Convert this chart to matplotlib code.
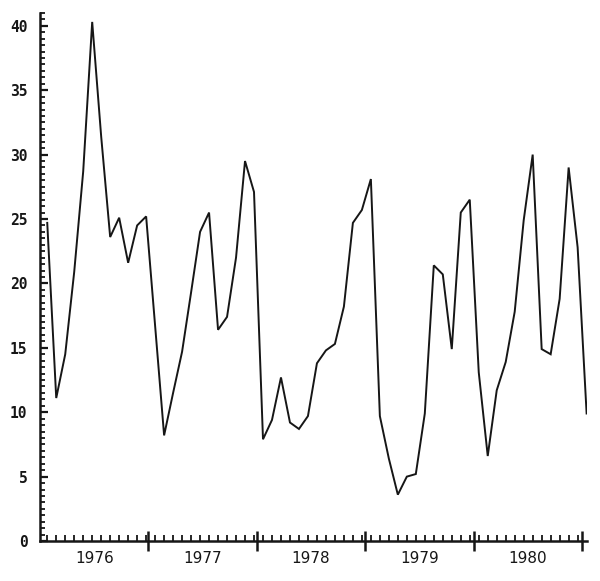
import numpy as np
import matplotlib
matplotlib.use("Agg")
import matplotlib.pyplot as plt
from matplotlib.ticker import FixedLocator, MultipleLocator

# monthly values, 1976 - 1980
values_1976 = [24.7, 11.1, 14.5, 20.9, 28.7, 40.3, 31.4, 23.6, 25.1, 21.6, 24.5, 25.2]
values_1977 = [16.7, 8.2, 11.5, 14.7, 19.3, 24.0, 25.5, 16.4, 17.4, 22.0, 29.5, 27.1]
values_1978 = [7.9, 9.4, 12.7, 9.2, 8.7, 9.7, 13.8, 14.8, 15.3, 18.2, 24.7, 25.7]
values_1979 = [28.1, 9.7, 6.4, 3.6, 5.0, 5.2, 9.9, 21.4, 20.7, 14.9, 25.5, 26.5]
values_1980 = [13.1, 6.6, 11.7, 13.9, 17.8, 24.9, 30.0, 14.9, 14.5, 18.8, 29.0, 22.8, 9.9]

years = ["1976", "1977", "1978", "1979", "1980"]

values = values_1976 + values_1977 + values_1978 + values_1979 + values_1980
# time in months since Jan 1976
months = 0.8 + np.arange(len(values)) * 0.995

ink = "#161616"

fig = plt.figure(figsize=(6.0, 5.81), dpi=100)
ax = fig.add_axes([0.0667, 0.0688, 0.911, 0.909])

ax.plot(months, values, color=ink, lw=1.4, solid_joinstyle="miter")

ax.set_xlim(0, months[-1])
ax.set_ylim(0, 41)

for side in ["top", "right"]:
    ax.spines[side].set_visible(False)
for side in ["left", "bottom"]:
    ax.spines[side].set_linewidth(1.8)
    ax.spines[side].set_color(ink)

# y axis: major every 5, minor every 0.5, ticks pointing inwards
ax.yaxis.set_major_locator(MultipleLocator(5))
ax.yaxis.set_minor_locator(MultipleLocator(0.5))
ax.tick_params(axis="y", which="major", direction="in", length=6, width=1.6,
               color=ink, pad=9)
ax.tick_params(axis="y", which="minor", direction="in", length=3.5, width=1.3,
               color=ink)
for lab in ax.get_yticklabels():
    lab.set_fontfamily("DejaVu Sans Mono")
    lab.set_fontweight("bold")
    lab.set_fontsize(10.5)
    lab.set_color(ink)

# x axis: a small tick at every month, year names centred in each year
year_centres = [6 + 12 * i for i in range(len(years))]
ax.xaxis.set_major_locator(FixedLocator(year_centres))
ax.set_xticklabels(years, fontsize=11, color=ink, fontfamily="DejaVu Sans")
ax.tick_params(axis="x", which="major", length=0, pad=7)
ax.xaxis.set_minor_locator(FixedLocator(months[:-1]))
ax.tick_params(axis="x", which="minor", direction="in", length=4.5, width=1.3,
               color=ink)

# year boundaries: longer ticks crossing the axis
sec = ax.secondary_xaxis("bottom")
sec.set_xticks([12 * (i + 1) for i in range(len(years))])
sec.set_xticklabels([])
sec.tick_params(axis="x", direction="inout", length=15, width=1.8, color=ink)
sec.spines["bottom"].set_visible(False)

fig.savefig("out.png", dpi=100, facecolor="white")
